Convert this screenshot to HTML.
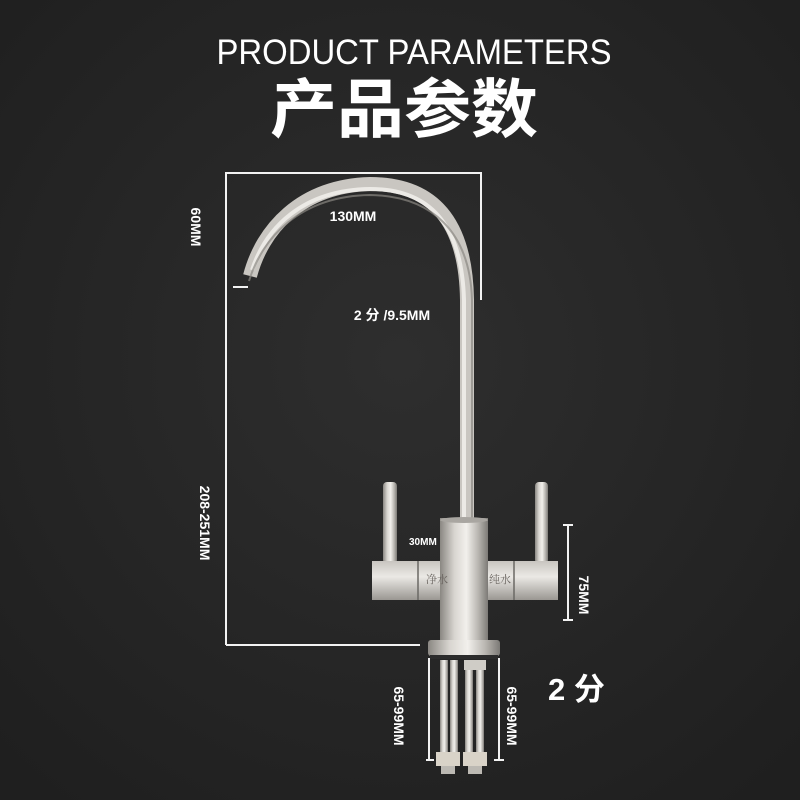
<!DOCTYPE html>
<html><head><meta charset="utf-8"><style>
html,body{margin:0;padding:0;background:#262626;}
svg{display:block}
</style></head><body>
<svg width="800" height="800" viewBox="0 0 800 800" xmlns="http://www.w3.org/2000/svg">
<defs>
<radialGradient id="bg" cx="50%" cy="45%" r="70%">
<stop offset="0" stop-color="#2e2e2e"/><stop offset="1" stop-color="#1f1f1f"/>
</radialGradient>
<linearGradient id="metal" x1="0" x2="1" y1="0" y2="0">
<stop offset="0" stop-color="#8a8782"/><stop offset="0.3" stop-color="#d8d5d0"/><stop offset="0.55" stop-color="#f2f0ec"/><stop offset="0.8" stop-color="#b8b5b0"/><stop offset="1" stop-color="#7c7a76"/>
</linearGradient>
<linearGradient id="metalV" x1="0" x2="0" y1="0" y2="1">
<stop offset="0" stop-color="#c8c5c0"/><stop offset="0.4" stop-color="#ebe9e5"/><stop offset="1" stop-color="#9a9792"/>
</linearGradient>
</defs>
<rect width="800" height="800" fill="url(#bg)"/>
<g font-family="Liberation Sans, Noto Sans CJK SC, sans-serif" fill="#fff">
<text x="414" y="64" font-size="35" text-anchor="middle" textLength="395" lengthAdjust="spacingAndGlyphs">PRODUCT PARAMETERS</text>
<text x="404" y="132" font-size="64" font-weight="bold" text-anchor="middle" font-family="Noto Sans CJK SC, sans-serif" textLength="268" lengthAdjust="spacingAndGlyphs">产品参数</text>
</g>
<g stroke="#f2f2f2" stroke-width="2" fill="none">
<path d="M226 645 V173 H481 V300"/>
<path d="M226 645 H420"/>
<path d="M233 287 H248"/>
<path d="M568 525 V620 M563 525 H573 M563 620 H573"/>
<path d="M429 658 V760 M499 658 V760 M426 760 H434 M494 760 H504"/>
</g>
<path d="M250 276 C262 230 300 186 370 184 C440 184 466 230 467 300 L467 520" stroke="#c9c6c1" stroke-width="14" fill="none"/>
<path d="M252 270 C266 228 302 190 370 189 C436 189 462 232 464 300 L464 520" stroke="#f5f3ef" stroke-width="4" fill="none" opacity="0.8"/>
<path d="M249 281 C262 238 300 196 370 195 C432 196 470 232 472 300 L472 520" stroke="#8a8782" stroke-width="2" fill="none" opacity="0.7"/>
<rect x="383" y="482" width="14" height="82" rx="4" fill="url(#metal)"/>
<rect x="535" y="482" width="13" height="82" rx="4" fill="url(#metal)"/>
<rect x="372" y="561" width="70" height="39" fill="url(#metalV)"/>
<rect x="486" y="561" width="72" height="39" fill="url(#metalV)"/>
<line x1="418" y1="561" x2="418" y2="600" stroke="#6a6864" stroke-width="1.5"/>
<line x1="514" y1="561" x2="514" y2="600" stroke="#6a6864" stroke-width="1.5"/>
<rect x="440" y="518" width="48" height="124" fill="url(#metal)"/>
<ellipse cx="464" cy="520" rx="24" ry="3" fill="#a9a6a1"/>
<text x="437" y="583" font-size="11" fill="#6a6560" font-family="Noto Serif CJK SC, serif" text-anchor="middle">净水</text>
<text x="500" y="583" font-size="11" fill="#6a6560" font-family="Noto Serif CJK SC, serif" text-anchor="middle">纯水</text>
<rect x="428" y="640" width="72" height="16" rx="3" fill="url(#metal)"/>
<rect x="430" y="655" width="68" height="4" fill="#2c2c2c"/>
<rect x="440" y="660" width="8" height="100" fill="url(#metal)"/>
<rect x="450" y="660" width="8" height="100" fill="url(#metal)"/>
<rect x="465" y="665" width="8" height="95" fill="url(#metal)"/>
<rect x="476" y="665" width="8" height="95" fill="url(#metal)"/>
<rect x="464" y="660" width="22" height="10" fill="#cfccc6"/>
<rect x="436" y="752" width="24" height="14" fill="#d9d3c8"/>
<rect x="463" y="752" width="24" height="14" fill="#d9d3c8"/>
<rect x="441" y="766" width="14" height="8" fill="#bcb9b3"/>
<rect x="468" y="766" width="14" height="8" fill="#bcb9b3"/>
<g font-family="Liberation Sans, Noto Sans CJK SC, sans-serif" fill="#fff" font-weight="bold">
<text x="353" y="221" font-size="14" text-anchor="middle">130MM</text>
<text x="392" y="320" font-size="14" text-anchor="middle">2 分 /9.5MM</text>
<text x="409" y="545" font-size="10">30MM</text>
<text x="548" y="700" font-size="31">2 分</text>
<text transform="translate(191,227) rotate(90)" font-size="14" text-anchor="middle">60MM</text>
<text transform="translate(200,523) rotate(90)" font-size="14" text-anchor="middle">208-251MM</text>
<text transform="translate(579,595) rotate(90)" font-size="14" text-anchor="middle">75MM</text>
<text transform="translate(394,716) rotate(90)" font-size="14" text-anchor="middle">65-99MM</text>
<text transform="translate(507,716) rotate(90)" font-size="14" text-anchor="middle">65-99MM</text>
</g>
</svg>
</body></html>
